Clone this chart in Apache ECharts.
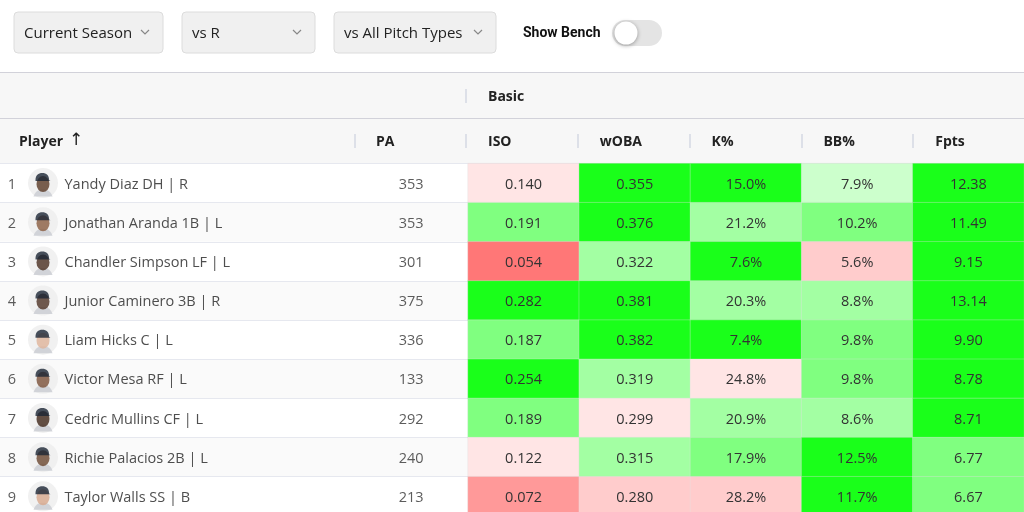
<!DOCTYPE html>
<html lang="en">
<head>
    <meta charset="UTF-8">
    <title>Batters vs R</title>
    <script src="https://cdn.jsdelivr.net/npm/echarts@6/dist/echarts.min.js"></script>
    <style>
        html, body { margin: 0; padding: 0; background: #fff; }
        #chart { width: 1024px; height: 512px; }
    </style>
</head>
<body>
<div id="chart"></div>
<script>
    // table data
    var players = ['Yandy Diaz DH | R', 'Jonathan Aranda 1B | L', 'Chandler Simpson LF | L',
        'Junior Caminero 3B | R', 'Liam Hicks C | L', 'Victor Mesa RF | L',
        'Cedric Mullins CF | L', 'Richie Palacios 2B | L', 'Taylor Walls SS | B'];
    var ranks = [1, 2, 3, 4, 5, 6, 7, 8, 9];
    var pa = [353, 353, 301, 375, 336, 133, 292, 240, 213];
    var statCols = ['ISO', 'wOBA', 'K%', 'BB%', 'Fpts'];
    var iso = [0.140, 0.191, 0.054, 0.282, 0.187, 0.254, 0.189, 0.122, 0.072];
    var woba = [0.355, 0.376, 0.322, 0.381, 0.382, 0.319, 0.299, 0.315, 0.280];
    var kPct = [15.0, 21.2, 7.6, 20.3, 7.4, 24.8, 20.9, 17.9, 28.2];
    var bbPct = [7.9, 10.2, 5.6, 8.8, 9.8, 9.8, 8.6, 12.5, 11.7];
    var fpts = [12.38, 11.49, 9.15, 13.14, 9.90, 8.78, 8.71, 6.77, 6.67];
    // colour tier of each cell as shown (4 best .. -4 worst)
    var isoTier = [-1, 3, -4, 4, 3, 4, 3, -1, -3];
    var wobaTier = [4, 4, 2, 4, 4, 2, -1, 2, -2];
    var kTier = [4, 2, 4, 2, 4, -1, 2, 3, -2];
    var bbTier = [1, 3, -2, 2, 3, 3, 2, 4, 4];
    var fptsTier = [4, 4, 4, 4, 4, 4, 4, 3, 3];

    var tierColors = {
        '4': '#1aff1a', '3': '#80ff80', '2': '#a3ffa3', '1': '#ccffcc',
        '-1': '#ffe5e5', '-2': '#ffcccc', '-3': '#ff9999', '-4': '#ff7777'
    };
    var avatarTone = ['#5a3a26', '#8a5c40', '#4a2e20', '#4e3224', '#e0b49a', '#7a5038', '#3e2618', '#6a4630', '#d8a88c'];

    var values = [iso, woba, kPct, bbPct, fpts];
    var tiers = [isoTier, wobaTier, kTier, bbTier, fptsTier];
    var fmt = [
        function (v) { return v.toFixed(3); },
        function (v) { return v.toFixed(3); },
        function (v) { return v.toFixed(1) + '%'; },
        function (v) { return v.toFixed(1) + '%'; },
        function (v) { return v.toFixed(2); }
    ];

    var cells = [];
    values.forEach(function (col, c) {
        col.forEach(function (v, r) {
            cells.push([c, r, tiers[c][r]]);
        });
    });

    var rowIdx = ranks.map(function (d, i) { return i; });
    var pieces = Object.keys(tierColors).map(function (k) {
        return { value: +k, color: tierColors[k] };
    });

    var font = '"Open Sans", "Noto Sans", sans-serif';
    var TOP = 163.5, ROWH = 39.15;

    function dropdown(x, w, text) {
        return [
            { type: 'rect', shape: { x: x, y: 12, width: w, height: 41, r: 4 },
              style: { fill: '#f0f0f0', stroke: '#dcdcdc', lineWidth: 1 } },
            { type: 'text', x: x + 10, y: 34,
              style: { text: text, fill: '#222', font: '15px ' + font, verticalAlign: 'middle' } },
            { type: 'polyline', shape: { points: [[x + w - 22, 30], [x + w - 18, 34], [x + w - 14, 30]] },
              style: { stroke: '#888', lineWidth: 1.2, fill: null } }
        ];
    }
    function sep(x, y) {
        return { type: 'line', shape: { x1: x, y1: y - 7, x2: x, y2: y + 7 },
                 style: { stroke: '#dde0e8', lineWidth: 2 } };
    }
    function head(x, text) {
        return { type: 'text', x: x, y: 142,
                 style: { text: text, fill: '#222', font: 'bold 14px ' + font, verticalAlign: 'middle' } };
    }

    var graphics = [].concat(
        dropdown(14, 149, 'Current Season'),
        dropdown(182, 133, 'vs R'),
        dropdown(334, 162, 'vs All Pitch Types'),
        [
            { type: 'text', x: 523, y: 33,
              style: { text: 'Show Bench', fill: '#111', font: 'bold 14px Roboto, sans-serif', verticalAlign: 'middle' } },
            { type: 'rect', shape: { x: 612, y: 20, width: 50, height: 26, r: 13 }, style: { fill: '#e4e4e4' } },
            { type: 'circle', shape: { cx: 626, cy: 33, r: 11.5 },
              style: { fill: '#fff', shadowBlur: 4, shadowColor: 'rgba(0,0,0,0.35)', shadowOffsetY: 1 } },
            { type: 'rect', shape: { x: 0, y: 72, width: 1024, height: 91 }, style: { fill: '#f7f7f7' } },
            { type: 'line', shape: { x1: 0, y1: 72.5, x2: 1024, y2: 72.5 }, style: { stroke: '#d2d2da', lineWidth: 1 } },
            { type: 'line', shape: { x1: 0, y1: 118.5, x2: 1024, y2: 118.5 }, style: { stroke: '#d2d2da', lineWidth: 1 } },
            { type: 'line', shape: { x1: 0, y1: 163.5, x2: 1024, y2: 163.5 }, style: { stroke: '#d2d2da', lineWidth: 1 } },
            sep(466, 96),
            { type: 'text', x: 488, y: 97,
              style: { text: 'Basic', fill: '#222', font: 'bold 14px ' + font, verticalAlign: 'middle' } },
            { type: 'text', x: 19, y: 142,
              style: { text: 'Player', fill: '#222', font: 'bold 14px ' + font, verticalAlign: 'middle' } },
            { type: 'text', x: 69, y: 141,
              style: { text: '\u2191', fill: '#222', font: '17px "DejaVu Sans", sans-serif', verticalAlign: 'middle' } },
            sep(355, 141), head(376, 'PA'),
            sep(466, 141), sep(578, 141), sep(690, 141), sep(802, 141), sep(913, 141)
        ],
        statCols.map(function (s, i) { return head(488 + i * 111.8, s); })
    );

    var chart = echarts.init(document.getElementById('chart'));
    chart.setOption({
        animation: false,
        textStyle: { fontFamily: font },
        graphic: graphics,
        grid: [
            { left: 0, width: 468, top: TOP, height: ROWH * 9, outerBoundsMode: 'none', containLabel: false },
            { left: 468, right: 0, top: TOP, height: ROWH * 9, outerBoundsMode: 'none', containLabel: false }
        ],
        xAxis: [
            { type: 'value', gridIndex: 0, min: 0, max: 468, show: false },
            { type: 'category', gridIndex: 1, data: statCols, show: false }
        ],
        yAxis: [
            { type: 'category', gridIndex: 0, data: rowIdx, inverse: true,
              axisLine: { show: false }, axisTick: { show: false }, axisLabel: { show: false },
              splitLine: { show: true, lineStyle: { color: '#e6e8ef', width: 1 } },
              splitArea: { show: true, areaStyle: { color: ['#ffffff', '#fafafa'] } } },
            { type: 'category', gridIndex: 1, data: rowIdx, inverse: true, show: false }
        ],
        visualMap: { type: 'piecewise', show: false, dimension: 2, seriesIndex: 0, pieces: pieces },
        series: [
            {
                type: 'heatmap', xAxisIndex: 1, yAxisIndex: 1, data: cells,
                itemStyle: { borderColor: 'rgba(225,225,225,0.55)', borderWidth: 0.6 },
                label: {
                    show: true, color: '#333', fontSize: 14.5, fontFamily: font, offset: [0, 1.5],
                    formatter: function (p) { return fmt[p.value[0]](values[p.value[0]][p.value[1]]); }
                },
                emphasis: { disabled: true }
            },
            {
                type: 'scatter', xAxisIndex: 0, yAxisIndex: 0, symbolSize: 1,
                itemStyle: { color: 'transparent' },
                data: ranks.map(function (r, i) { return [12, i]; }),
                label: { show: true, position: 'inside', color: '#333', fontSize: 14.5, offset: [0, 1.5],
                         formatter: function (p) { return String(ranks[p.dataIndex]); } }
            },
            {
                type: 'scatter', xAxisIndex: 0, yAxisIndex: 0, symbol: 'circle', symbolSize: 30,
                itemStyle: { color: '#ededed' },
                data: ranks.map(function (r, i) { return [43, i]; })
            },
            {
                type: 'scatter', xAxisIndex: 0, yAxisIndex: 0,
                symbol: 'path://M0,10 C2,4 6,3 10,3 C14,3 18,4 20,10 Z', symbolSize: [19, 7], symbolOffset: [0, 10],
                itemStyle: { color: '#c9ccd2' },
                data: ranks.map(function (r, i) { return [43, i]; })
            },
            {
                type: 'scatter', xAxisIndex: 0, yAxisIndex: 0, symbol: 'circle', symbolSize: [13, 16], symbolOffset: [0, 1],
                data: ranks.map(function (r, i) { return { value: [43, i], itemStyle: { color: avatarTone[i] } }; })
            },
            {
                type: 'scatter', xAxisIndex: 0, yAxisIndex: 0,
                symbol: 'path://M0,10 C0,3 4,0 10,0 C16,0 20,3 20,10 L22,11 L0,11 Z', symbolSize: [15, 8], symbolOffset: [0, -6],
                itemStyle: { color: '#1c2535' },
                data: ranks.map(function (r, i) { return [43, i]; })
            },
            {
                type: 'scatter', xAxisIndex: 0, yAxisIndex: 0, symbolSize: 1,
                itemStyle: { color: 'transparent' },
                data: ranks.map(function (r, i) { return [64, i]; }),
                label: { show: true, position: 'right', distance: 0, color: '#222', fontSize: 14.5, offset: [0, 1.5],
                         formatter: function (p) { return players[p.dataIndex]; } }
            },
            {
                type: 'scatter', xAxisIndex: 0, yAxisIndex: 0, symbolSize: 1,
                itemStyle: { color: 'transparent' },
                data: ranks.map(function (r, i) { return [424, i]; }),
                label: { show: true, position: 'left', distance: 0, color: '#333', fontSize: 14.5, offset: [0, 1.5],
                         formatter: function (p) { return String(pa[p.dataIndex]); } }
            }
        ]
    });
</script>
</body>
</html>
